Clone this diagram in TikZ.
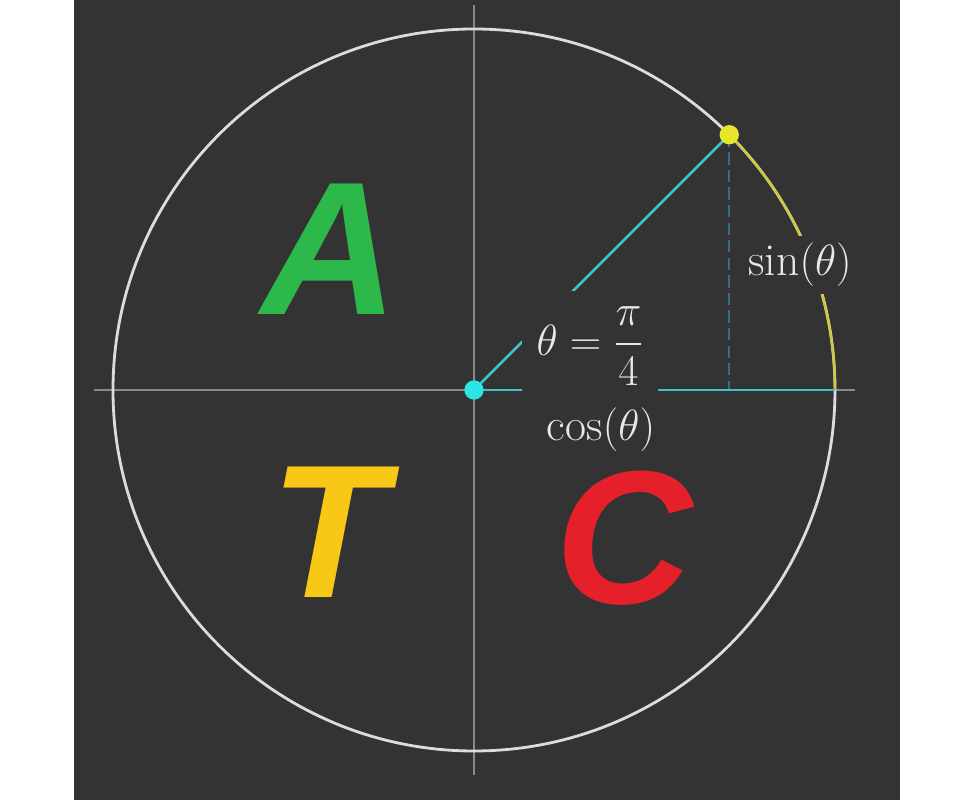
\documentclass[tikz,border=0pt]{standalone}
\usepackage{fontspec}
\usepackage{amsmath}
\newfontfamily\quadfont{Liberation Sans}
\usetikzlibrary{calc}
\definecolor{board}{HTML}{333333}
\definecolor{rim}{HTML}{DCDCDC}
\definecolor{axisgray}{HTML}{8A8A8A}
\definecolor{ray}{HTML}{3EC3C6}
\definecolor{dotcyan}{HTML}{2CE6E6}
\definecolor{sun}{HTML}{E8E62C}
\definecolor{arcyel}{HTML}{CFC83E}
\definecolor{drop}{HTML}{2F6E8C}
\definecolor{chalk}{HTML}{E8E8E8}
\definecolor{quadA}{HTML}{2DB84B}
\definecolor{quadT}{HTML}{F7C816}
\definecolor{quadC}{HTML}{E5202A}
\tikzset{
  axisline/.style={draw=axisgray,line width=1.1pt},
  rimline/.style={draw=rim,line width=1.6pt},
  rayline/.style={draw=ray,line width=1.6pt},
  dropline/.style={draw=drop,line width=1.2pt,dash pattern=on 7pt off 3pt},
  arcline/.style={draw=arcyel,line width=1.4pt},
  quad/.style={font=\quadfont\bfseries\itshape\fontsize{108}{114}\selectfont,inner sep=0pt},
  trig/.style={text=chalk,fill=board,font=\fontsize{26}{30}\selectfont,inner xsep=4pt,inner ysep=4.3pt},
  blob/.style={circle,inner sep=0pt,minimum size=11pt}
}

\begin{document}
\begin{tikzpicture}[x=0.02cm,y=0.02cm]
  \useasboundingbox (-474,-410) rectangle (501,390);
  \fill[white] (-474,-410) rectangle (501,390);
  \fill[board] (-400,-410) rectangle (426,390);

  \coordinate (O) at (0,0);
  \coordinate (P) at (45:361);
  \coordinate (Px) at (P |- O);
  \coordinate (E) at (361,0);
  \coordinate (xl) at (-380,0);
  \coordinate (xr) at (381,0);
  \coordinate (yt) at (0,385);
  \coordinate (yb) at (0,-385);

  \draw[axisline] (xl)--(xr);
  \draw[axisline] (yb)--(yt);
  \draw[rimline] (O) circle (361);
  \draw[arcline] (P) arc[start angle=45,end angle=0,radius=361];
  \draw[dropline] (P)--(Px);
  \draw[rayline] (O)--(P);
  \draw[rayline] (O)--(E);

  \node[trig] (sin) at (326,125) {$\sin(\theta)$};
  \node[trig,fill=none] (cos) at (127,-40) {$\cos(\theta)$};
  \node[trig,inner xsep=8pt,inner ysep=9pt] (ang) at (116,44) {$\theta=\dfrac{\pi}{4}$};

  \node[blob,fill=dotcyan] (Odot) at (O) {};
  \node[blob,fill=sun] (Pdot) at (P) {};

  \node[quad,text=quadA] (A) at (-144,141) {A};
  \node[quad,text=quadT] (T) at (-146,-142) {T};
  \node[quad,text=quadC] (C) at (150,-148) {C};
\end{tikzpicture}
\end{document}
